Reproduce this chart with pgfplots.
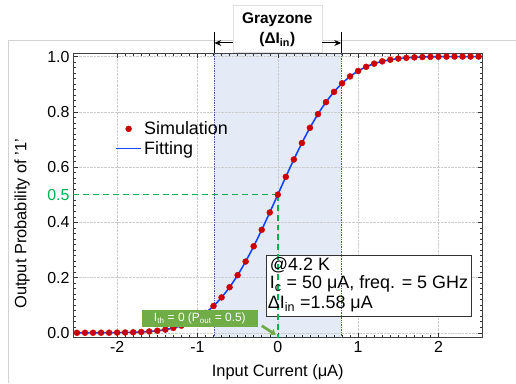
\documentclass[border=0pt]{standalone}
\usepackage{fontspec}
\setmainfont{Liberation Sans}
\usepackage{pgfplots}
\pgfplotsset{compat=1.18}
\usetikzlibrary{arrows.meta}
\definecolor{zonefill}{RGB}{228,235,247}
\definecolor{zoneborder}{RGB}{70,90,160}
\definecolor{zonegreen}{RGB}{0,176,80}
\definecolor{callgreen}{RGB}{112,173,71}
\definecolor{mred}{RGB}{204,0,0}
\definecolor{lblue}{RGB}{20,70,255}
\pgfplotstableread{
x y
-2.5 0.0000
-2.4 0.0000
-2.3 0.0001
-2.2 0.0002
-2.1 0.0003
-2.0 0.0006
-1.9 0.0010
-1.8 0.0017
-1.7 0.0029
-1.6 0.0047
-1.5 0.0074
-1.4 0.0115
-1.3 0.0174
-1.2 0.0257
-1.1 0.0371
-1.0 0.0523
-0.9 0.0720
-0.8 0.0970
-0.7 0.1279
-0.6 0.1650
-0.5 0.2085
-0.4 0.2580
-0.3 0.3131
-0.2 0.3727
-0.1 0.4355
0.0 0.5000
0.1 0.5645
0.2 0.6273
0.3 0.6869
0.4 0.7420
0.5 0.7915
0.6 0.8350
0.7 0.8721
0.8 0.9030
0.9 0.9280
1.0 0.9477
1.1 0.9629
1.2 0.9743
1.3 0.9826
1.4 0.9885
1.5 0.9926
1.6 0.9953
1.7 0.9971
1.8 0.9983
1.9 0.9990
2.0 0.9994
2.1 0.9997
2.2 0.9998
2.3 0.9999
2.4 1.0000
2.5 1.0000
}\simdata
\begin{document}
\begin{tikzpicture}
\draw[gray!35, line width=0.8pt] (-65bp,-45bp) -- (-65bp,298bp) -- (443bp,298bp);
\begin{axis}[
  set layers,
  scale only axis,
  width=410bp, height=285bp,
  xmin=-2.55, xmax=2.55,
  ymin=-0.018, ymax=1.013,
  clip=false,
  xtick={-2,-1,0,1,2},
  ytick={0,0.2,0.4,0.6,0.8,1.0},
  minor x tick num=9,
  minor y tick num=9,
  major tick length=5bp,
  minor tick length=3bp,
  tick style={black!80, line width=0.5pt},
  axis line style={black!75, line width=0.8pt},
  grid=major,
  grid style={densely dotted, gray!40, line width=0.5pt},
  /pgf/number format/assume math mode=true,
  yticklabel style={/pgf/number format/fixed, /pgf/number format/fixed zerofill, /pgf/number format/precision=1},
  ticklabel style={font=\fontsize{16}{16}\selectfont},
  extra y ticks={0.5},
  extra y tick labels={0.5},
  extra y tick style={grid=none, major tick length=0pt, yticklabel style={/tikz/text=zonegreen}},
  xlabel={Input Current (μA)},
  ylabel={Output Probability of '1'},
  label style={font=\fontsize{16.5}{17}\selectfont},
  xlabel style={at={(axis description cs:0.5,-0.122)}, anchor=center},
  ylabel style={at={(axis description cs:-0.124,0.40)}, anchor=center},
  legend style={draw=none, fill=none, font=\fontsize{18}{19}\selectfont,
    at={(0.10,0.77)}, anchor=north west, row sep=1pt, inner sep=1pt,
    /tikz/every even column/.append style={column sep=8pt}},
  legend image code/.code={
    \draw[#1, mark repeat=2, mark phase=2] plot coordinates {(0cm,0cm) (0.45cm,0cm) (0.9cm,0cm)};},
  legend cell align=left,
]
\begin{pgfonlayer}{axis background}
\fill[zonefill] (axis cs:-0.79,-0.018) rectangle (axis cs:0.79,1.013);
\end{pgfonlayer}
\begin{pgfonlayer}{pre main}
\filldraw[fill=white, draw=black!80, line width=0.8pt] (axis cs:-0.137,0.281) rectangle (axis cs:2.413,0.058);
\end{pgfonlayer}
\addplot[zoneborder, densely dotted, line width=0.7pt, forget plot] coordinates {(-0.79,-0.018) (-0.79,1.013)};
\addplot[zoneborder, densely dotted, line width=0.7pt, forget plot] coordinates {(0.79,-0.018) (0.79,1.013)};
\addplot[zonegreen, dash pattern=on 6pt off 4pt, line width=1.4pt, forget plot] coordinates {(-2.55,0.5) (0,0.5)};
\addplot[zonegreen, dash pattern=on 6pt off 4pt, line width=1.8pt, forget plot] coordinates {(0,0.5) (0,-0.018)};
\addplot[only marks, mark=*, mark size=3pt, mark options={fill=mred, draw=mred}] table[x=x,y=y] {\simdata};
\addlegendentry{Simulation}
\addplot[lblue, line width=1.6pt, smooth] table[x=x,y=y] {\simdata};
\addlegendentry{Fitting}
\end{axis}
% ---- annotations (axis box spans (0,0)-(410bp,285bp)) ----
% info box text
\node[anchor=base west, inner sep=0pt, font=\fontsize{18}{19}\selectfont] at (197bp,67bp) {@4.2 K};
\node[anchor=base west, inner sep=0pt, font=\fontsize{18}{19}\selectfont] at (197bp,49bp) {I\textsubscript{c} = 50 μA, freq. = 5 GHz};
\node[anchor=base west, inner sep=0pt, font=\fontsize{18}{19}\selectfont] at (195bp,29bp) {ΔI\textsubscript{in} =1.58 μA};
% grayzone annotation above
\fill[white, draw=gray!25] (160bp,286bp) rectangle (249bp,333bp);
\draw[black, line width=0.9pt] (141.5bp,285bp) -- (141.5bp,306bp);
\draw[black, line width=0.9pt] (268.5bp,285bp) -- (268.5bp,306bp);
\draw[-{Stealth[length=7pt,width=6pt]}, line width=1pt] (160bp,295bp) -- (141.5bp,295bp);
\draw[-{Stealth[length=7pt,width=6pt]}, line width=1pt] (249bp,295bp) -- (268.5bp,295bp);
\node[font=\bfseries\fontsize{15.5}{16}\selectfont] at (204.5bp,318bp) {Grayzone};
\node[font=\bfseries\fontsize{15.5}{16}\selectfont] at (204.5bp,298bp) {(ΔI\textsubscript{in})};
% green callout
\node[fill=callgreen, text=white, minimum width=116bp, minimum height=17bp, inner sep=0pt,
  font=\fontsize{12}{12}\selectfont] at (127bp,19.5bp)
  {I\textsubscript{th} = 0 (P\textsubscript{out} = 0.5)};
\draw[-{Triangle[length=5pt,width=7pt]}, line width=2.8pt, callgreen] (189bp,12bp) -- (203bp,3bp);
\useasboundingbox (-73bp,-45bp) rectangle (443bp,338bp);
\end{tikzpicture}
\end{document}
